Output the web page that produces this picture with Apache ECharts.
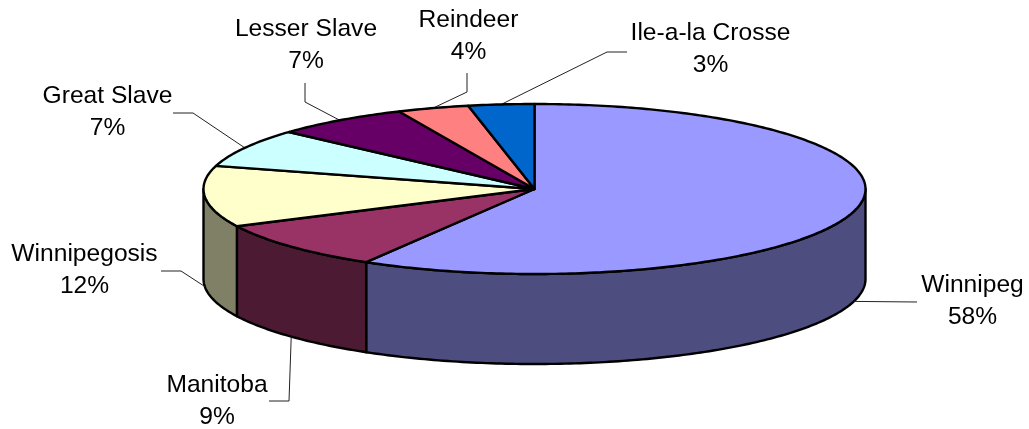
<!DOCTYPE html>
<html>
<head>
<meta charset="utf-8">
<style>html,body{margin:0;padding:0;background:#fff}#c{width:1029px;height:429px}</style>
<script src="https://cdn.jsdelivr.net/npm/echarts@6/dist/echarts.min.js"></script>
</head>
<body>
<div id="c"></div>
<script>
// Data
const lakes = ['Winnipeg', 'Manitoba', 'Winnipegosis', 'Great Slave', 'Lesser Slave', 'Reindeer', 'Ile-a-la Crosse'];
const shares = [58.49, 9.3, 11.6, 7.3, 6.6, 3.5, 3.21];
const topColors = ['#9999ff', '#993366', '#ffffcc', '#ccffff', '#660066', '#ff8080', '#0066cc'];
const sideColors = ['#4d4d80', '#4d1a33', '#808066', '#668080', '#330033', '#804040', '#003366'];

// Layout of the disc (pixels)
const disc = { cx: 534.5, cy: 189, rx: 331, ry: 85, depth: 90 };
// Label layout: centre x, first-line centre y, leader elbow/end points
const labelLayout = [
  { x: 972.5, y: 285, leader: [[917, 302]] },
  { x: 217, y: 385, leader: [[289, 401], [269, 401]] },
  { x: 84.5, y: 254, leader: [[181, 271], [161, 271]] },
  { x: 107.5, y: 96, leader: [[193, 113], [173, 113]] },
  { x: 306, y: 29, leader: [[305, 102], [305, 83]] },
  { x: 468.5, y: 20, leader: [[467, 92], [467, 73]] },
  { x: 710.5, y: 33, leader: [[607, 52], [627, 52]] }
];
const FONT = '24.6px "Liberation Sans", Arial, sans-serif';
const LINE_GAP = 32;

const total = shares.reduce((a, b) => a + b, 0);
const rows = [];
let run = 0;
shares.forEach((v, i) => { rows.push([i, v, run]); run += v; });

const toAngle = s => (s / total) * Math.PI * 2;           // clockwise from 12 o'clock
const rimPoint = (a, drop) => [disc.cx + disc.rx * Math.sin(a), disc.cy - disc.ry * Math.cos(a) + (drop || 0)];
function arc(a0, a1, drop) {
  const n = Math.max(2, Math.ceil((a1 - a0) / 0.015));
  const pts = [];
  for (let k = 0; k <= n; k++) pts.push(rimPoint(a0 + (a1 - a0) * k / n, drop));
  return pts;
}
const stroke = { stroke: '#000', lineWidth: 2.4, lineJoin: 'round' };

function renderSide(params, api) {
  const i = api.value(0);
  const a0 = toAngle(api.value(2));
  const a1 = toAngle(api.value(2) + api.value(1));
  // only the front half of the wall (quarter past to quarter to) is visible
  const lo = Math.max(a0, Math.PI / 2), hi = Math.min(a1, Math.PI * 1.5);
  if (hi <= lo) return null;
  const pts = arc(lo, hi, 0).concat(arc(lo, hi, disc.depth).reverse());
  return { type: 'polygon', shape: { points: pts }, style: Object.assign({ fill: sideColors[i] }, stroke) };
}
function renderTop(params, api) {
  const i = api.value(0);
  const a0 = toAngle(api.value(2));
  const a1 = toAngle(api.value(2) + api.value(1));
  const pts = [[disc.cx, disc.cy]].concat(arc(a0, a1, 0));
  return { type: 'polygon', shape: { points: pts }, style: Object.assign({ fill: topColors[i] }, stroke) };
}
function renderLabel(params, api) {
  const i = api.value(0);
  const mid = toAngle(api.value(2) + api.value(1) / 2);
  const front = Math.cos(mid) < 0;
  const start = rimPoint(mid, front ? disc.depth : 0);
  const lay = labelLayout[i];
  return {
    type: 'group',
    children: [
      { type: 'polyline', shape: { points: [start].concat(lay.leader) },
        style: { fill: null, stroke: '#222', lineWidth: 1 } },
      { type: 'text', x: lay.x, y: lay.y,
        style: { text: lakes[i], font: FONT, fill: '#000', align: 'center', verticalAlign: 'middle' } },
      { type: 'text', x: lay.x, y: lay.y + LINE_GAP,
        style: { text: Math.round(api.value(1)) + '%', font: FONT, fill: '#000', align: 'center', verticalAlign: 'middle' } }
    ]
  };
}

const chart = echarts.init(document.getElementById('c'), null, { renderer: 'canvas' });
const base = { type: 'custom', coordinateSystem: 'none', data: rows, animation: false, silent: true, clip: false };
chart.setOption({
  animation: false,
  backgroundColor: '#fff',
  series: [
    Object.assign({}, base, { name: 'Walls', renderItem: renderSide, z: 1 }),
    Object.assign({}, base, { name: 'Labels', renderItem: renderLabel, z: 2 }),
    Object.assign({}, base, { name: 'Tops', renderItem: renderTop, z: 3 })
  ]
});
</script>
</body>
</html>
